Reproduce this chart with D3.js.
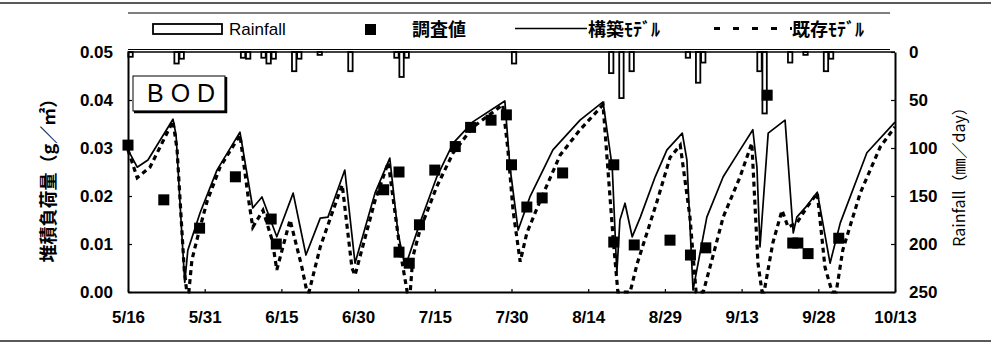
<!DOCTYPE html>
<html>
<head>
<meta charset="utf-8">
<script src="https://cdn.jsdelivr.net/npm/d3@7"></script>
<style>
  html, body { margin: 0; padding: 0; background: #fff; }
  svg { display: block; }
  .tick text { font-family: "Liberation Sans", Arial, sans-serif; font-weight: bold; font-size: 17px; fill: #000; }
</style>
</head>
<body>
<svg id="chart" width="991" height="346"></svg>
<script>
// x axis: day offset from 5/16, ticks every 15 days
const tickDays   = [0, 15, 30, 45, 60, 75, 90, 105, 120, 135, 150];
const tickLabels = ["5/16", "5/31", "6/15", "6/30", "7/15", "7/30", "8/14", "8/29", "9/13", "9/28", "10/13"];
const bodTicks   = [0, 0.01, 0.02, 0.03, 0.04, 0.05];
const rainTicks  = [0, 50, 100, 150, 200, 250];

// daily rainfall (mm/day)
const rainDays = [0, 9, 10, 22, 23, 26, 27, 28, 32, 33, 37, 43, 52, 53, 54, 75, 94, 96, 98, 109, 111, 112, 123, 124, 129, 132, 136, 137];
const rainMm   = [5, 12, 7, 6, 7, 6, 12, 7, 20, 7, 3, 20, 6, 26, 6, 12, 22, 48, 20, 6, 32, 11, 20, 64, 11, 3, 20, 7];

// observed BOD load (g/m2)
const surveyDays = [0, 7, 14, 21, 28, 29, 50, 53, 53, 55, 57, 60, 64, 67, 71, 74, 75, 78, 81, 85, 95, 95, 99, 106, 110, 113, 125, 130, 131, 133, 139];
const surveyBod  = [0.0306, 0.0192, 0.0133, 0.0240, 0.0152, 0.0100, 0.0213, 0.0250, 0.0083, 0.0060, 0.0140, 0.0254, 0.0303, 0.0343, 0.0358, 0.0369, 0.0265, 0.0177, 0.0196, 0.0248, 0.0265, 0.0104, 0.0098, 0.0108, 0.0077, 0.0092, 0.0410, 0.0102, 0.0102, 0.0080, 0.0112];

// proposed model (solid)
const builtDays = [0, 1.8, 3.9, 8.8, 9.4, 10.6, 11.1, 11.7, 14.1, 17.4, 21.9, 24.4, 26.2, 29.1, 32.3, 34.8, 37.6, 39.1, 42.4, 44.4, 48.3, 51.2, 52.8, 54.2, 57.1, 60.4, 63.6, 67.5, 73.7, 74.7, 76.3, 78.6, 83.1, 88.4, 92.9, 94.7, 95.6, 96.2, 97.2, 98.6, 100.2, 103.1, 105.4, 108.4, 109.3, 110.5, 113.2, 116.4, 119.7, 122.2, 123.0, 123.6, 125.2, 128.5, 130.1, 130.8, 132.8, 134.8, 137.3, 139.3, 144.5, 150];
const builtBod  = [0.0296, 0.0260, 0.0275, 0.0360, 0.0327, 0.0108, 0.0020, 0.0087, 0.0165, 0.0254, 0.0333, 0.0175, 0.0198, 0.0115, 0.0206, 0.0077, 0.0154, 0.0156, 0.0254, 0.0060, 0.0206, 0.0279, 0.0123, 0.0052, 0.0144, 0.0240, 0.0310, 0.0355, 0.0398, 0.0260, 0.0129, 0.0198, 0.0296, 0.0358, 0.0396, 0.0260, 0.0040, 0.0150, 0.0185, 0.0115, 0.0156, 0.0240, 0.0296, 0.0331, 0.0275, 0.0004, 0.0156, 0.0240, 0.0296, 0.0338, 0.0260, 0.0094, 0.0331, 0.0358, 0.0123, 0.0156, 0.0180, 0.0208, 0.0060, 0.0144, 0.0290, 0.0354];

// existing model (dashed)
const existDays = [0, 1.8, 4.3, 8.8, 9.6, 11.0, 11.5, 11.9, 12.5, 14.1, 15.5, 18.0, 21.9, 23.5, 24.4, 26.4, 28.2, 29.1, 31.7, 34.0, 35.0, 35.4, 37.6, 40.1, 41.9, 43.8, 44.4, 48.3, 50.9, 53.2, 54.6, 55.2, 55.7, 57.1, 60.4, 63.6, 67.5, 73.3, 74.3, 75.3, 76.7, 78.0, 80.6, 84.5, 88.4, 92.9, 94.9, 95.8, 98.2, 99.6, 103.5, 106.0, 108.0, 109.9, 111.1, 112.5, 114.2, 116.4, 119.7, 122.0, 123.2, 124.0, 124.4, 126.1, 127.9, 129.1, 130.8, 132.8, 134.8, 136.3, 137.7, 138.5, 139.8, 143.2, 147.1, 150];
const existBod  = [0.0296, 0.0238, 0.0260, 0.0356, 0.0296, 0.0046, 0, 0, 0.0067, 0.0135, 0.0190, 0.0260, 0.0327, 0.0198, 0.0135, 0.0170, 0.0108, 0.0046, 0.0150, 0.0052, 0, 0, 0.0094, 0.0170, 0.0223, 0.0050, 0.0035, 0.0190, 0.0270, 0.0088, 0, 0, 0.0073, 0.0129, 0.0220, 0.0290, 0.0344, 0.0390, 0.0296, 0.0170, 0.0063, 0.0123, 0.0190, 0.0285, 0.0338, 0.0390, 0.0108, 0, 0, 0.0060, 0.0190, 0.0280, 0.0306, 0.0156, 0, 0, 0.0067, 0.0156, 0.0240, 0.0310, 0.0060, 0, 0, 0.0102, 0.0170, 0.0135, 0.0144, 0.0177, 0.0206, 0.0052, 0, 0, 0.0088, 0.0206, 0.0302, 0.0344];

const svg = d3.select("#chart");
const W = 991, H = 346;
const L = 128, R = 895, T = 52, B = 292;

const x  = d3.scaleLinear().domain([0, 150]).range([L, R]);
const y  = d3.scaleLinear().domain([0, 0.05]).range([B, T]);
const yr = d3.scaleLinear().domain([0, 250]).range([T, B]);

svg.append("rect").attr("width", W).attr("height", H).attr("fill", "#fff");

// outer rules
svg.append("line").attr("x1", 0).attr("x2", W).attr("y1", 3).attr("y2", 3)
  .attr("stroke", "#222").attr("stroke-width", 1.5);
svg.append("line").attr("x1", 0).attr("x2", W).attr("y1", 341).attr("y2", 341)
  .attr("stroke", "#222").attr("stroke-width", 1.5);

// legend band
svg.append("line").attr("x1", L).attr("x2", 890).attr("y1", 13).attr("y2", 13)
  .attr("stroke", "#000").attr("stroke-width", 1.2);
svg.append("line").attr("x1", L).attr("x2", 890).attr("y1", 49.5).attr("y2", 49.5)
  .attr("stroke", "#000").attr("stroke-width", 1);

const lg = svg.append("g");
lg.append("rect").attr("x", 153).attr("y", 24).attr("width", 69).attr("height", 10)
  .attr("fill", "#fff").attr("stroke", "#000").attr("stroke-width", 1.8);
lg.append("text").attr("x", 229).attr("y", 35).text("Rainfall")
  .attr("font-family", "'Liberation Sans', Arial, sans-serif").attr("font-size", 17);
lg.append("rect").attr("x", 365).attr("y", 24).attr("width", 11).attr("height", 11).attr("fill", "#000");
lg.append("text").attr("x", 412).attr("y", 36).text("調査値")
  .attr("font-family", "'Noto Sans CJK JP', sans-serif").attr("font-weight", "bold").attr("font-size", 18);
lg.append("line").attr("x1", 515).attr("x2", 587).attr("y1", 28.5).attr("y2", 28.5)
  .attr("stroke", "#000").attr("stroke-width", 1.6);
lg.append("text").attr("x", 588).attr("y", 36).text("構築ﾓﾃﾞﾙ")
  .attr("font-family", "'Noto Sans CJK JP', sans-serif").attr("font-weight", "bold").attr("font-size", 18);
lg.append("line").attr("x1", 714).attr("x2", 792).attr("y1", 28.5).attr("y2", 28.5)
  .attr("stroke", "#000").attr("stroke-width", 3).attr("stroke-dasharray", "6,13");
lg.append("text").attr("x", 792).attr("y", 36).text("既存ﾓﾃﾞﾙ")
  .attr("font-family", "'Noto Sans CJK JP', sans-serif").attr("font-weight", "bold").attr("font-size", 18);

// rainfall bars hanging from the top
svg.append("g").selectAll("rect").data(rainDays.map((d, i) => ({ d, v: rainMm[i] })))
  .join("rect")
  .attr("x", p => x(p.d + 0.5) - 2.2)
  .attr("y", yr(0))
  .attr("width", 4.4)
  .attr("height", p => yr(p.v) - yr(0))
  .attr("fill", "#fff").attr("stroke", "#000").attr("stroke-width", 1.8);

// model curves
const lineGen = d3.line().x(p => x(p[0])).y(p => y(p[1]));
svg.append("path").datum(existDays.map((d, i) => [d, existBod[i]]))
  .attr("d", lineGen).attr("fill", "none").attr("stroke", "#000")
  .attr("stroke-width", 3.2).attr("stroke-dasharray", "5,4");
svg.append("path").datum(builtDays.map((d, i) => [d, builtBod[i]]))
  .attr("d", lineGen).attr("fill", "none").attr("stroke", "#000")
  .attr("stroke-width", 1.7).attr("stroke-linejoin", "round");

// observations
svg.append("g").selectAll("rect").data(surveyDays.map((d, i) => ({ d, v: surveyBod[i] })))
  .join("rect")
  .attr("x", p => x(p.d) - 5.5).attr("y", p => y(p.v) - 5.5)
  .attr("width", 11).attr("height", 11).attr("fill", "#000");

// axes
const axL = svg.append("g").attr("transform", `translate(${L},0)`)
  .call(d3.axisLeft(y).tickValues(bodTicks).tickFormat(d3.format(".2f")).tickSizeInner(-4).tickSizeOuter(0).tickPadding(15));
const axR = svg.append("g").attr("transform", `translate(${R},0)`)
  .call(d3.axisRight(yr).tickValues(rainTicks).tickSizeInner(-4).tickSizeOuter(0).tickPadding(14));
const axB = svg.append("g").attr("transform", `translate(0,${B})`)
  .call(d3.axisBottom(x).tickValues(tickDays).tickFormat((d, i) => tickLabels[i]).tickSizeInner(-3).tickSizeOuter(0).tickPadding(19));
[axL, axR, axB].forEach(a => {
  a.select(".domain").attr("stroke", "#000").attr("stroke-width", 2);
  a.selectAll(".tick line").attr("stroke", "#000").attr("stroke-width", 1.2);
});
svg.append("line").attr("x1", L).attr("x2", R).attr("y1", T).attr("y2", T)
  .attr("stroke", "#000").attr("stroke-width", 1.6);

// BOD tag
const tag = svg.append("g");
tag.append("rect").attr("x", 133).attr("y", 76).attr("width", 92).attr("height", 35)
  .attr("fill", "#fff").attr("stroke", "#000").attr("stroke-width", 1);
tag.append("polyline").attr("points", "226,77 226,112 134,112")
  .attr("fill", "none").attr("stroke", "#000").attr("stroke-width", 2.5);
tag.append("text").attr("x", 147).attr("y", 102).text("BOD")
  .attr("font-family", "'Liberation Sans', Arial, sans-serif").attr("font-size", 25)
  .attr("letter-spacing", 7);

// axis titles
svg.append("text").attr("transform", "translate(47,176) rotate(-90)")
  .attr("text-anchor", "middle").attr("dominant-baseline", "central")
  .attr("font-family", "'Noto Sans CJK JP', sans-serif").attr("font-weight", "bold").attr("font-size", 18)
  .text("堆積負荷量（g／㎡）");
svg.append("text").attr("transform", "translate(958,173) rotate(-90)")
  .attr("text-anchor", "middle").attr("dominant-baseline", "central")
  .attr("font-family", "'Noto Sans CJK JP', sans-serif").attr("font-size", 16)
  .text("Rainfall（㎜／day）");
</script>
</body>
</html>
